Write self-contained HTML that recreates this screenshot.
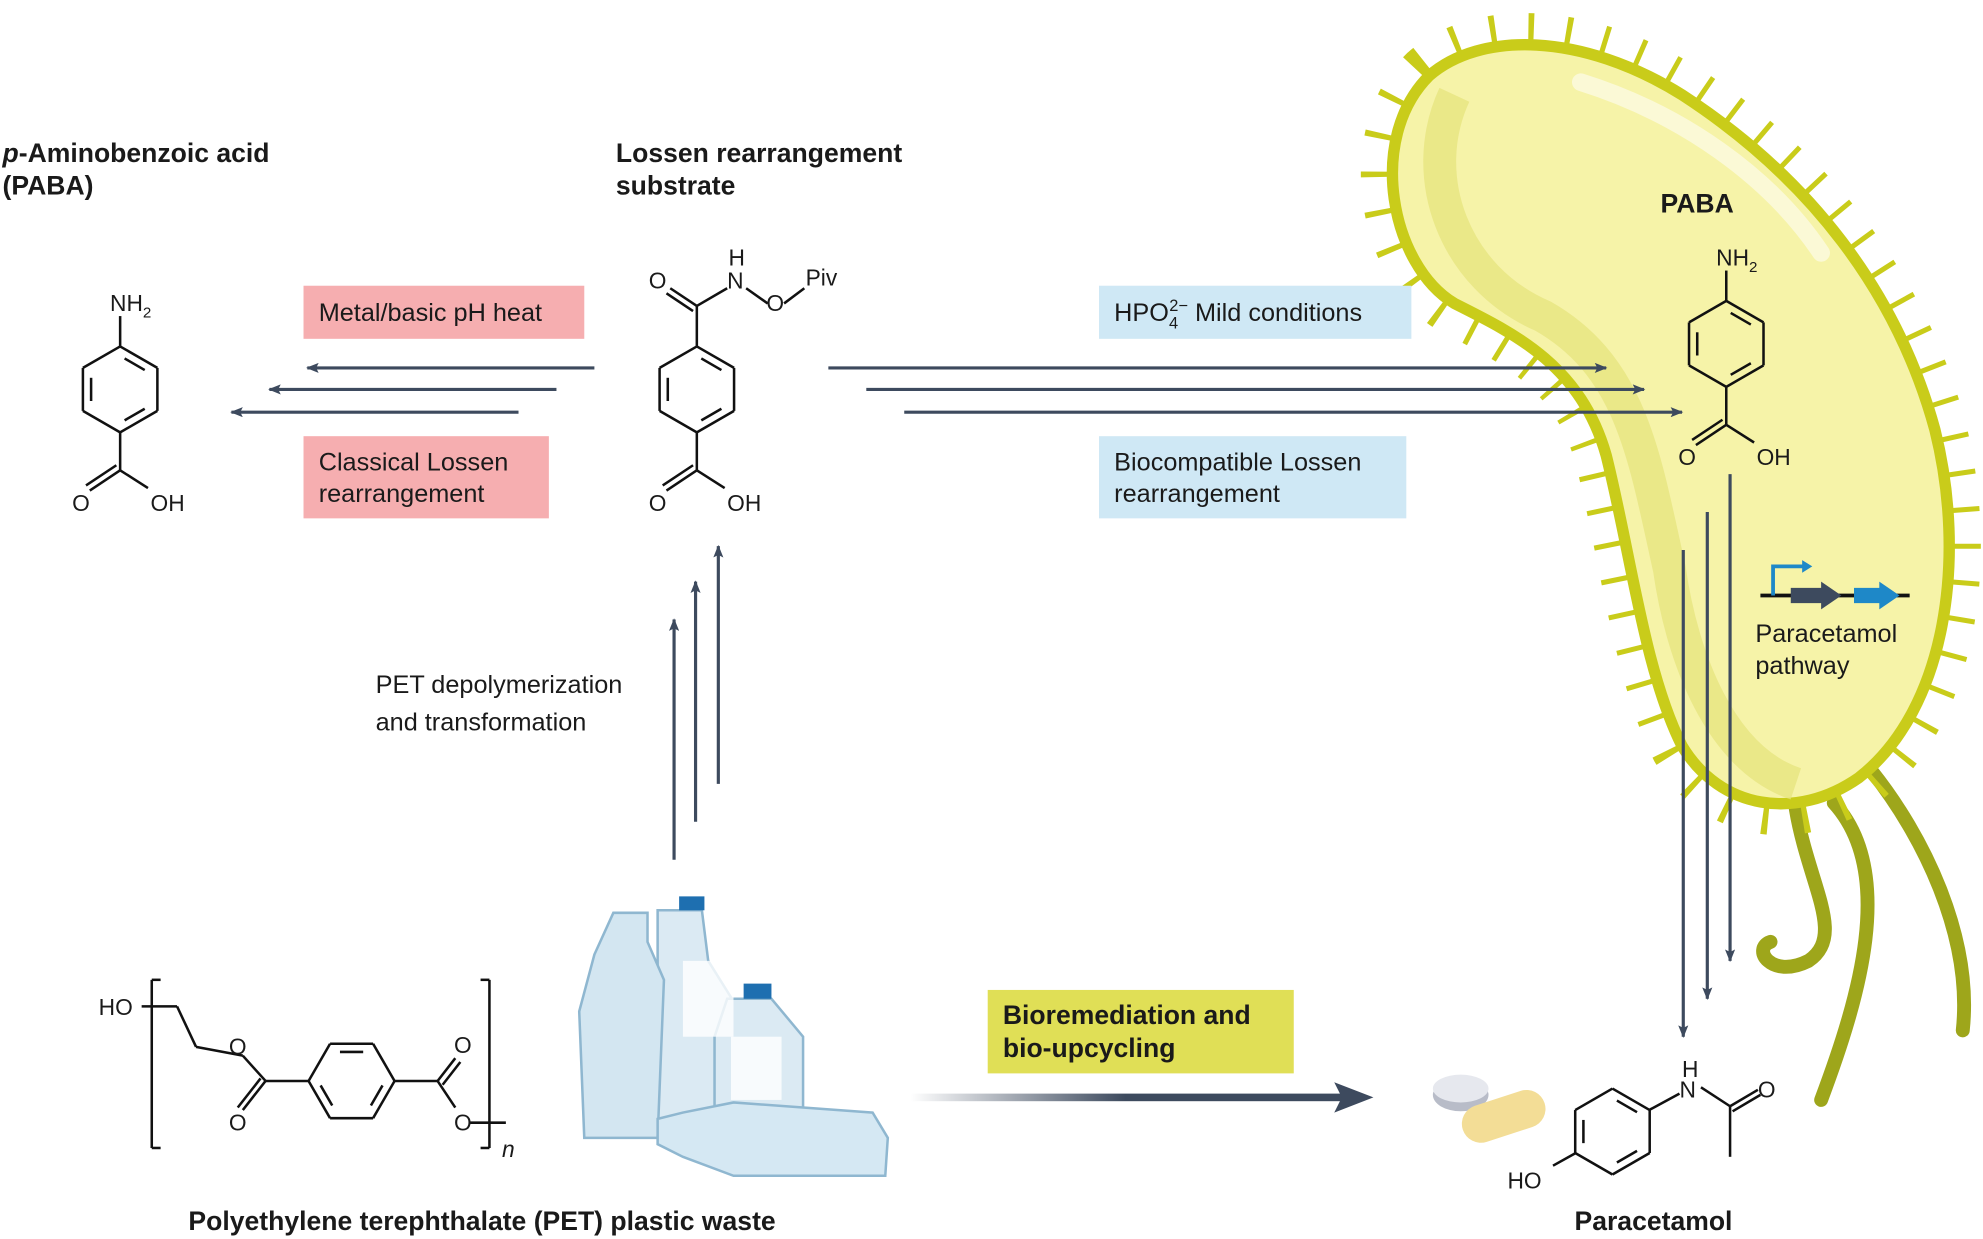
<!DOCTYPE html>
<html><head><meta charset="utf-8">
<style>
html,body{margin:0;padding:0;background:#fff;}
svg{display:block;}
text{font-family:"Liberation Sans",sans-serif;fill:#1a1a1a;}
.b{font-weight:bold;}
</style></head>
<body>
<svg id="s" width="1983" height="1239" viewBox="0 0 1568 980" preserveAspectRatio="none" xmlns="http://www.w3.org/2000/svg">
<defs>
<marker id="ah" markerWidth="10" markerHeight="8" refX="9" refY="4" orient="auto" markerUnits="userSpaceOnUse">
<path d="M0,0 L10,4 L0,8 L2,4 Z" fill="#3d4a5e"/></marker>
<linearGradient id="g1" x1="720" x2="1060" y1="0" y2="0" gradientUnits="userSpaceOnUse"><stop offset="0" stop-color="#3d4a5e" stop-opacity="0"/><stop offset="0.5" stop-color="#3d4a5e"/></linearGradient>
</defs>

<!-- bacterium -->
<g>
<path d="M1420,640 C1430,700 1460,740 1430,760 C1400,775 1385,750 1400,745" fill="none" stroke="#9ea61b" stroke-width="11" stroke-linecap="round"/>
<path d="M1480,610 C1520,660 1560,740 1552,815" fill="none" stroke="#9ea61b" stroke-width="11" stroke-linecap="round"/>
<path d="M1450,635 C1500,690 1470,790 1440,870" fill="none" stroke="#9ea61b" stroke-width="11" stroke-linecap="round"/>
<path d="M1130,60 C1170,25 1250,25 1330,75 C1430,140 1500,230 1530,340 C1555,440 1540,560 1470,615 C1420,650 1360,640 1330,590 C1300,530 1290,440 1270,360 C1250,290 1200,265 1150,240 C1100,210 1080,110 1130,60 Z" fill="none" stroke="#c9cc1a" stroke-width="50" stroke-dasharray="4 24"/>
<path d="M1130,60 C1170,25 1250,25 1330,75 C1430,140 1500,230 1530,340 C1555,440 1540,560 1470,615 C1420,650 1360,640 1330,590 C1300,530 1290,440 1270,360 C1250,290 1200,265 1150,240 C1100,210 1080,110 1130,60 Z" fill="#f6f3a8" stroke="#c9cc1a" stroke-width="9"/>
<path d="M1150,75 C1120,140 1150,220 1220,250 C1290,290 1300,360 1320,450 C1330,520 1360,600 1420,620" fill="none" stroke="#e5e27a" stroke-width="26" opacity="0.7"/>
<path d="M1250,65 C1330,90 1400,140 1440,200" fill="none" stroke="#fbf9d6" stroke-width="14" stroke-linecap="round"/>
</g>

<!-- titles -->
<text x="2" y="128" font-size="21" class="b"><tspan font-style="italic">p</tspan>-Aminobenzoic acid</text>
<text x="2" y="154" font-size="21" class="b">(PABA)</text>
<text x="487" y="128" font-size="21" class="b">Lossen rearrangement</text>
<text x="487" y="154" font-size="21" class="b">substrate</text>
<text x="1313" y="168" font-size="21" class="b">PABA</text>

<!-- boxes -->
<rect x="240" y="226" width="222" height="42" fill="#f6aeb0"/>
<text x="252" y="254" font-size="20">Metal/basic pH heat</text>
<rect x="240" y="345" width="194" height="65" fill="#f6aeb0"/>
<text x="252" y="372" font-size="20">Classical Lossen</text>
<text x="252" y="397" font-size="20">rearrangement</text>
<rect x="869" y="226" width="247" height="42" fill="#cfe8f5"/>
<text x="881" y="254" font-size="20">HPO<tspan font-size="13" dy="6">4</tspan><tspan font-size="13" dy="-14" dx="-7">2−</tspan><tspan dy="8"> Mild conditions</tspan></text>
<rect x="869" y="345" width="243" height="65" fill="#cfe8f5"/>
<text x="881" y="372" font-size="20">Biocompatible Lossen</text>
<text x="881" y="397" font-size="20">rearrangement</text>

<rect x="781" y="783" width="242" height="66" fill="#e0df56"/>
<text x="793" y="810" font-size="21" class="b">Bioremediation and</text>
<text x="793" y="836" font-size="21" class="b">bio-upcycling</text>

<text x="297" y="548" font-size="20">PET depolymerization</text>
<text x="297" y="578" font-size="20">and transformation</text>
<text x="1388" y="508" font-size="20">Paracetamol</text>
<text x="1388" y="533" font-size="20">pathway</text>
<text x="149" y="973" font-size="21" class="b">Polyethylene terephthalate (PET) plastic waste</text>
<text x="1245" y="973" font-size="21" class="b">Paracetamol</text>

<!-- arrows -->
<g stroke="#3d4a5e" stroke-width="2.5" fill="none" marker-end="url(#ah)">
<line x1="470" y1="291" x2="243" y2="291"/>
<line x1="440" y1="308" x2="213" y2="308"/>
<line x1="410" y1="326" x2="183" y2="326"/>
<line x1="655" y1="291" x2="1270" y2="291"/>
<line x1="685" y1="308" x2="1300" y2="308"/>
<line x1="715" y1="326" x2="1330" y2="326"/>
<line x1="533" y1="680" x2="533" y2="490"/>
<line x1="550" y1="650" x2="550" y2="460"/>
<line x1="568" y1="620" x2="568" y2="432"/>
<line x1="1331" y1="435" x2="1331" y2="820"/>
<line x1="1350" y1="405" x2="1350" y2="790"/>
<line x1="1368" y1="375" x2="1368" y2="760"/>
</g>
<rect x="720" y="865" width="345" height="6" fill="url(#g1)"/>
<path d="M1055,856 L1086,868 L1055,880 L1061,868 Z" fill="#3d4a5e"/>

<!-- gene icon -->
<line x1="1392" y1="471" x2="1510" y2="471" stroke="#111" stroke-width="3"/>
<path d="M1402,471 V448 H1428" fill="none" stroke="#1e88c8" stroke-width="3"/>
<path d="M1425,443 L1433,448 L1425,453 Z" fill="#1e88c8"/>
<path d="M1416,465 H1440 V460 L1456,471 L1440,482 V477 H1416 Z" fill="#3d4a5e"/>
<path d="M1466,465 H1486 V460 L1502,471 L1486,482 V477 H1466 Z" fill="#1e88c8"/>

<!-- bottles -->
<g stroke="#8fb7d0" stroke-width="2" fill="#dbeaf3">
<path d="M520,720 L555,720 L560,760 L585,800 L585,900 L520,900 Z"/>
<rect x="537" y="709" width="20" height="11" fill="#1e6fb0" stroke="none"/>
<path d="M485,722 L512,722 L512,745 L525,775 L520,900 L462,900 L458,800 L470,755 Z" fill="#d3e6f1"/>
<path d="M575,790 L610,790 L635,820 L635,890 L565,890 L565,820 Z"/>
<rect x="588" y="778" width="22" height="12" fill="#1e6fb0" stroke="none"/>
<path d="M540,880 L580,872 L690,880 L702,900 L700,930 L580,930 L540,915 L520,905 L520,885 Z" fill="#d5e8f3"/>
</g>
<rect x="540" y="760" width="40" height="60" fill="#fff" opacity="0.8"/>
<rect x="578" y="820" width="40" height="50" fill="#fff" opacity="0.8"/>

<!-- pills -->
<ellipse cx="1155" cy="866" rx="22" ry="13" fill="#b8bcc8"/>
<ellipse cx="1155" cy="861" rx="22" ry="11" fill="#e6e8ee"/>
<rect x="1155" y="868" width="68" height="30" rx="15" transform="rotate(-18 1189 883)" fill="#f3dd96"/>

<g id="chem" stroke="#111" stroke-width="2" fill="none"></g>
<g id="lbl" font-size="18"></g>
</svg>
<script>
var g=document.getElementById('chem'),L=document.getElementById('lbl');
function ln(a,b,c,d){var e=document.createElementNS('http://www.w3.org/2000/svg','line');e.setAttribute('x1',a);e.setAttribute('y1',b);e.setAttribute('x2',c);e.setAttribute('y2',d);g.appendChild(e);}
function tx(x,y,t){var e=document.createElementNS('http://www.w3.org/2000/svg','text');e.setAttribute('x',x);e.setAttribute('y',y);e.setAttribute('font-size','18');e.innerHTML=t;L.appendChild(e);}
function ring(cx,cy,r,off){var p=[];for(var i=0;i<6;i++){var a=(off+60*i)*Math.PI/180;p.push([cx+r*Math.cos(a),cy+r*Math.sin(a)]);}
for(var i=0;i<6;i++){var A=p[i],B=p[(i+1)%6];ln(A[0],A[1],B[0],B[1]);if(i%2==0){var k=0.78;ln(cx+(A[0]-cx)*k+(B[0]-A[0])*0.12,cy+(A[1]-cy)*k+(B[1]-A[1])*0.12,cx+(B[0]-cx)*k-(B[0]-A[0])*0.12,cy+(B[1]-cy)*k-(B[1]-A[1])*0.12);}}return p;}
function cooh(x,y){ln(x,y,x,y+30);ln(x,y+30,x-24,y+46);ln(x-3,y+26,x-27,y+42);ln(x,y+30,x+22,y+44);tx(x-38,y+62,'O');tx(x+24,y+62,'OH');}
function paba(cx,cy,r){ring(cx,cy,r,-90);ln(cx,cy-r,cx,cy-r-24);tx(cx-8,cy-r-28,'NH<tspan font-size="12" dy="5">2</tspan>');cooh(cx,cy+r);}
paba(95,308,34);
paba(1365,272,34);
ring(551,308,34,-90);cooh(551,342);
ln(551,274,551,242);ln(551,242,530,228);ln(548,246,527,232);ln(551,242,575,228);tx(513,228,'O');tx(575,228,'N');tx(576,210,'H');
ln(590,228,607,240);tx(606,246,'O');ln(620,240,636,228);tx(637,226,'Piv');
// PET
ring(278,855,34,0);
ln(244,855,210,855);ln(210,855,192,835);ln(210,855,192,878);ln(206,853,188,876);tx(181,834,'O');tx(181,894,'O');
ln(192,835,155,828);ln(155,828,140,796);ln(140,796,112,796);tx(78,803,'HO');
ln(312,855,346,855);ln(346,855,360,837);ln(350,858,364,840);ln(346,855,360,876);tx(359,833,'O');tx(359,894,'O');ln(372,888,400,888);
ln(127,775,120,775);ln(120,775,120,908);ln(120,908,127,908);ln(380,775,387,775);ln(387,775,387,908);ln(387,908,380,908);
tx(397,915,'<tspan font-style="italic">n</tspan>');
// paracetamol (pointy top)
ring(1275,895,34,-90);
ln(1304,878,1328,865);tx(1328,868,'N');tx(1330,852,'H');ln(1345,860,1368,875);ln(1368,875,1390,862);ln(1370,879,1392,866);tx(1390,868,'O');ln(1368,875,1368,915);
ln(1246,912,1228,922);tx(1192,940,'HO');
</script>
</body></html>
